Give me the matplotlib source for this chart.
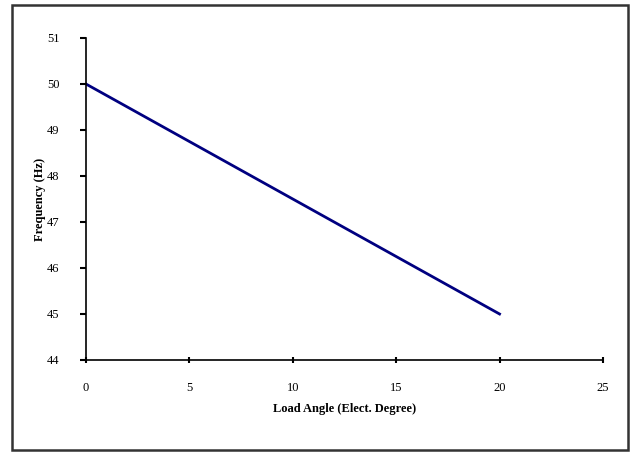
import numpy as np
import matplotlib.pyplot as plt
from matplotlib.patches import Rectangle

# load angle vs frequency
load_angle = [0, 5, 10, 15, 20]
frequency = [50.0, 48.75, 47.5, 46.25, 45.0]

x_ticks = [0, 5, 10, 15, 20, 25]
y_ticks = [44, 45, 46, 47, 48, 49, 50, 51]

plt.rcParams['font.family'] = ['Liberation Serif', 'DejaVu Serif']

fig = plt.figure(figsize=(6.34, 4.55), dpi=100)
ax = fig.add_axes([0.1356, 0.2088, 0.8154, 0.7077])

ax.plot(load_angle, frequency, color='#000080', linewidth=2)

ax.set_xlim(0, 25)
ax.set_ylim(44, 51)
ax.set_xticks(x_ticks)
ax.set_yticks(y_ticks)
ax.tick_params(axis='x', direction='inout', length=5, width=1.5, pad=13, labelsize=9)
ax.tick_params(axis='y', direction='out', length=4, width=1.5, pad=15, labelsize=9)
for s in ['top', 'right']:
    ax.spines[s].set_visible(False)
for s in ['left', 'bottom']:
    ax.spines[s].set_linewidth(1.2)

ax.set_xlabel('Load Angle (Elect. Degree)', fontsize=9, fontweight='bold', labelpad=7)
ax.set_ylabel('Frequency (Hz)', fontsize=9, fontweight='bold')
ax.yaxis.set_label_coords(-0.077, 0.5)

"outer frame"
fig.patches.append(Rectangle((12 / 634, 5 / 455), 616 / 634, 445 / 455, transform=fig.transFigure,
                             fill=False, edgecolor='#333333', linewidth=1.8))

plt.savefig('out.png', dpi=100)
